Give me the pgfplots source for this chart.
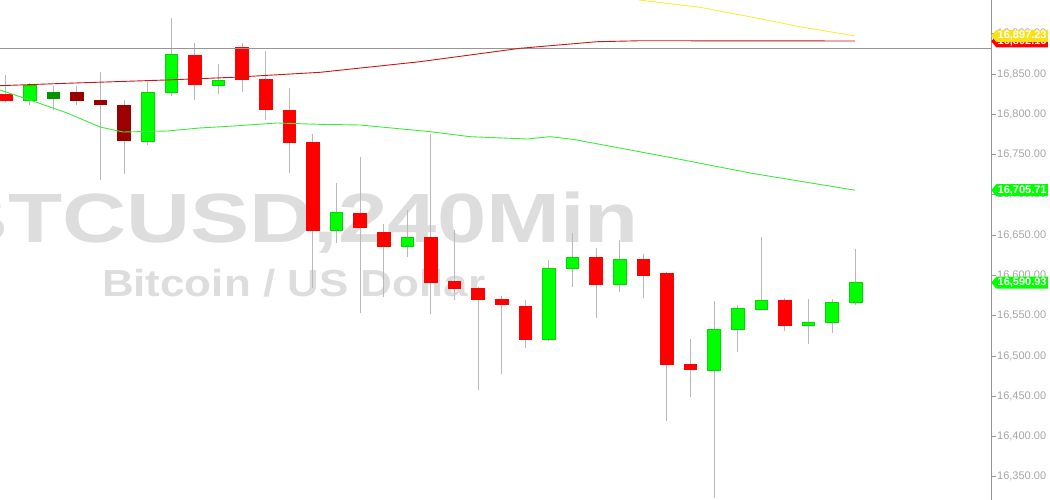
\documentclass[border=0pt]{standalone}
\usepackage{fontspec}
\setmainfont{Liberation Sans}
\usepackage{pgfplots}
\usepackage{pgfplotstable}
\pgfplotsset{compat=1.18}
\usetikzlibrary{shapes.symbols}
\definecolor{cred}{RGB}{255,0,0}
\definecolor{cgreen}{RGB}{0,255,0}
\definecolor{cdred}{RGB}{155,0,0}
\definecolor{cdgreen}{RGB}{0,150,0}
\definecolor{wickc}{RGB}{185,185,185}
\definecolor{wm}{RGB}{221,221,221}
\definecolor{maRed}{RGB}{205,20,20}
\definecolor{maGreen}{RGB}{60,235,60}
\definecolor{maYellow}{RGB}{245,240,60}
\definecolor{tagYellow}{RGB}{250,225,20}
\definecolor{ticklbl}{RGB}{165,165,165}
\definecolor{axisc}{RGB}{150,150,150}

% i open high low close type (1 red, 2 green, 3 dark red, 4 dark green)
\pgfplotstableread{
i o h l c t
0 16825.2 16848.8 16815.2 16817.7 1
1 16817.7 16838.8 16811.5 16836.3 2
2 16819.8 16835.1 16805.3 16828.0 4
3 16827.3 16835.1 16811.5 16817.7 3
4 16817.3 16852.9 16718.4 16812.4 3
5 16811.1 16817.7 16725.8 16768.1 3
6 16766.8 16840.4 16761.8 16826.8 2
7 16828.0 16919.2 16823.1 16874.8 2
8 16873.6 16888.1 16817.7 16837.2 1
9 16835.5 16862.4 16825.2 16842.6 2
10 16883.9 16888.1 16828.0 16843.8 1
11 16843.8 16878.9 16792.9 16806.5 1
12 16805.3 16832.2 16726.7 16765.9 1
13 16765.9 16775.1 16584.3 16656.3 1
14 16656.3 16714.3 16639.8 16678.3 2
15 16677.0 16747.3 16552.9 16660.0 1
16 16653.8 16663.8 16573.5 16636.4 1
17 16636.4 16681.1 16623.2 16647.6 2
18 16647.6 16775.1 16552.0 16592.1 1
19 16593.0 16656.3 16569.4 16583.9 1
20 16583.9 16585.0 16457.7 16570.6 1
21 16570.6 16574.4 16477.5 16564.1 1
22 16562.3 16569.4 16509.4 16521.0 1
23 16521.0 16619.1 16519.0 16609.5 2
24 16609.5 16652.2 16585.2 16622.8 2
25 16622.8 16633.6 16546.7 16588.9 1
26 16588.9 16643.9 16579.7 16619.9 2
27 16619.9 16626.5 16571.5 16599.6 1
28 16603.3 16604.5 16419.5 16489.9 1
29 16489.9 16520.6 16448.6 16483.7 1
30 16482.1 16568.2 16323.2 16533.4 2
31 16533.4 16563.2 16504.8 16559.1 2
32 16558.6 16648.0 16557.0 16569.4 2
33 16569.4 16571.5 16531.3 16538.0 1
34 16538.7 16570.6 16514.4 16542.1 2
35 16541.7 16570.3 16528.8 16566.9 2
36 16566.5 16632.3 16562.8 16590.93 2
}\candles

\pgfplotsset{
  wickline/.style={draw=wickc, line width=0.8pt},
  body1/.style={fill=cred, draw=cred, line width=0.4pt},
  body2/.style={fill=cgreen, draw=cgreen!85!black, line width=0.4pt},
  body3/.style={fill=cdred, draw=cdred, line width=0.4pt},
  body4/.style={fill=cdgreen, draw=cdgreen, line width=0.4pt},
}
\tikzset{pricetag/.style={shape=signal, signal to=west, signal pointer angle=100,
  fill=#1, text=white, font=\fontsize{11}{12}\selectfont\bfseries,
  inner sep=0.8pt, minimum height=12pt, text width=50pt, align=center, anchor=west}}

\begin{document}
\begin{tikzpicture}
\useasboundingbox (0,0) rectangle (1050pt,500pt);
% watermark
\node[anchor=base west, inner sep=0, text=wm] at (-55.7pt,257pt)
  {\scalebox{1.27}[1]{\fontsize{69.8}{70}\selectfont\bfseries BTCUSD,240Min}};
\node[anchor=base west, inner sep=0, text=wm] at (101.8pt,203pt)
  {\scalebox{1.165}[1]{\fontsize{37.7}{40}\selectfont\bfseries Bitcoin / US Dollar}};
\begin{axis}[
  at={(0,0)}, anchor=south west,
  scale only axis, width=991pt, height=500pt,
  xmin=-0.25, xmax=41.74, ymin=16321.1, ymax=16941.9,
  axis x line=none, axis y line*=right,
  axis line style={axisc, line width=0.8pt},
  clip=false,
  xtick=\empty,
  ytick={16350,16400,...,16900},
  scaled y ticks=false,
  tick align=outside, major tick length=5pt,
  ytick style={axisc, line width=0.8pt},
  yticklabel style={text=ticklbl, font=\fontsize{11}{12}\selectfont, inner sep=1pt,
    /pgf/number format/.cd, fixed, fixed zerofill, precision=2, 1000 sep={,}, assume math mode=true},
]
\pgfplotstablegetrowsof{\candles}
\pgfmathtruncatemacro{\lastrow}{\pgfplotsretval-1}
\pgfplotsinvokeforeach{0,...,\lastrow}{
  \pgfplotstablegetelem{#1}{i}\of\candles \let\ci\pgfplotsretval
  \pgfplotstablegetelem{#1}{o}\of\candles \let\co\pgfplotsretval
  \pgfplotstablegetelem{#1}{h}\of\candles \let\ch\pgfplotsretval
  \pgfplotstablegetelem{#1}{l}\of\candles \let\cl\pgfplotsretval
  \pgfplotstablegetelem{#1}{c}\of\candles \let\cc\pgfplotsretval
  \pgfplotstablegetelem{#1}{t}\of\candles \let\ct\pgfplotsretval
  \pgfmathsetmacro\xa{\ci-0.265}
  \pgfmathsetmacro\xb{\ci+0.265}
  \edef\tmp{\noexpand\addplot[wickline] coordinates {(\ci,\cl) (\ci,\ch)};
    \noexpand\addplot[body\ct] coordinates {(\xa,\co) (\xb,\co) (\xb,\cc) (\xa,\cc)} -- cycle;}
  \tmp
}
% horizontal gray line
\addplot[axisc, line width=0.8pt] coordinates {(-0.25,16881.9) (41.74,16881.9)};
% moving averages
\addplot[maGreen, line width=0.9pt] coordinates {
(-0.25,16830.1) (1.02,16817.7) (2.59,16801.6) (3.99,16784.2) (4.96,16778.0)
(6.83,16779.2) (8.22,16783.0) (9.62,16785.4) (11.49,16789.2) (13.31,16787.5)
(15.00,16786.7) (17.97,16778.4) (19.67,16772.2) (22.08,16769.3) (23.06,16772.2)
(24.03,16768.9) (25.72,16759.7) (28.56,16744.1) (31.53,16727.1) (35.98,16705.71)};
\addplot[maRed, line width=0.9pt] coordinates {
(-0.25,16835.5) (2.59,16838.5) (6.83,16842.6) (9.62,16845.9) (13.31,16852.1)
(17.55,16865.3) (21.78,16881.9) (25.05,16890.1) (26.87,16891.3) (35.98,16891.0)};
\addplot[maYellow, line width=0.9pt] coordinates {
(26.83,16941.9) (29.41,16932.8) (31.53,16921.1) (33.65,16908.7) (35.98,16897.23)};
% price tags
\node[pricetag=red] at (axis cs:41.74,16890.5) {16,892.16};
\node[pricetag=tagYellow] at (axis cs:41.74,16897.23) {16,897.23};
\node[pricetag=cgreen] at (axis cs:41.74,16705.71) {16,705.71};
\node[pricetag=cgreen] at (axis cs:41.74,16590.93) {16,590.93};
\end{axis}
\end{tikzpicture}
\end{document}
